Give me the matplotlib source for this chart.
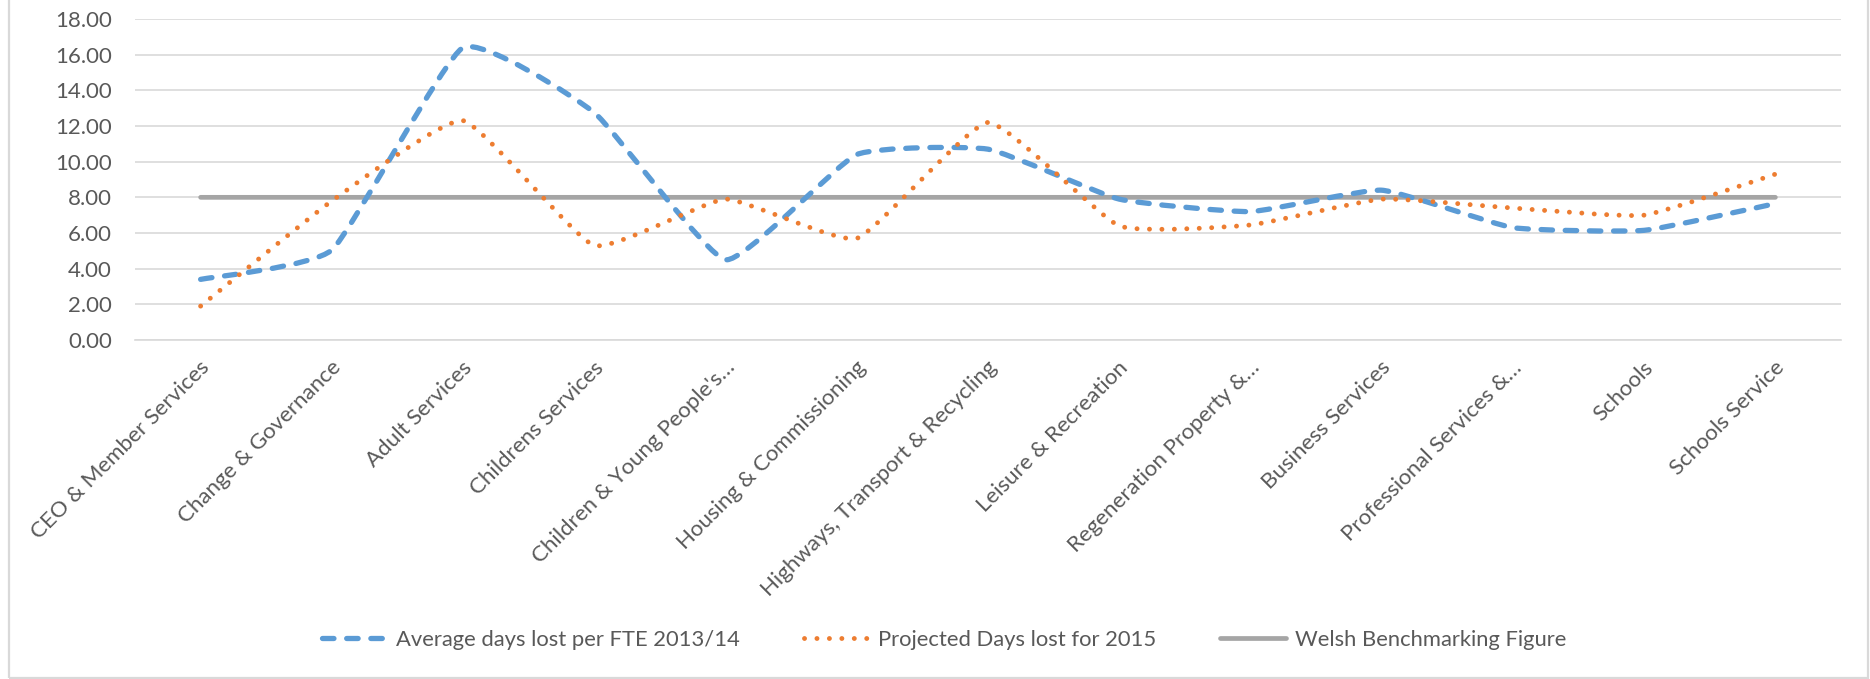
import numpy as np
import matplotlib
matplotlib.use("Agg")
import matplotlib.pyplot as plt
from matplotlib.path import Path
from matplotlib.patches import PathPatch, Rectangle
from matplotlib.lines import Line2D
from matplotlib.transforms import offset_copy

# =========================
# Data
# =========================
categories = [
    "CEO & Member Services",
    "Change & Governance",
    "Adult Services",
    "Childrens Services",
    "Children & Young People's\u2026",
    "Housing & Commissioning",
    "Highways, Transport & Recycling",
    "Leisure & Recreation",
    "Regeneration Property &\u2026",
    "Business Services",
    "Professional Services &\u2026",
    "Schools",
    "Schools Service",
]
avg_days_2013_14 = [3.40, 5.05, 16.40, 12.75, 4.50, 10.40, 10.70, 7.90, 7.20, 8.40, 6.30, 6.15, 7.65]
projected_2015 = [1.90, 7.80, 12.30, 5.30, 7.90, 5.70, 12.20, 6.40, 6.45, 7.90, 7.40, 7.00, 9.30]
welsh_benchmark = [8.00] * 13

series_names = [
    "Average days lost per FTE 2013/14",
    "Projected Days lost for 2015",
    "Welsh Benchmarking Figure",
]

# =========================
# Plot settings
# =========================
plt.rcParams.update({
    "font.family": ["Lato", "DejaVu Sans"],
    "font.size": 16,
})

text_color = "#595959"
grid_color = "#D9D9D9"
blue = "#5B9BD5"
orange = "#ED7D31"
grey = "#A5A5A5"


def smooth_path(xs, ys, k=14.0):
    # mildly smoothed line (Excel "smoothed line"), Bezier segments
    pts = np.column_stack([xs, ys]).astype(float)
    verts = [pts[0]]
    codes = [Path.MOVETO]
    n = len(pts)
    for i in range(n - 1):
        p0 = pts[i - 1] if i > 0 else pts[i]
        p1 = pts[i]
        p2 = pts[i + 1]
        p3 = pts[i + 2] if i + 2 < n else pts[i + 1]
        verts += [p1 + (p2 - p0) / k, p2 - (p3 - p1) / k, p2]
        codes += [Path.CURVE4] * 3
    return Path(verts, codes)


fig = plt.figure(figsize=(18.7, 6.79), dpi=100)
W, H = 1870, 679
ax = fig.add_axes([135 / W, 1 - 340 / H, (1841 - 135) / W, (340 - 19) / H])

x = np.arange(len(categories))

styles = [
    dict(color=blue, lw=3.8, ls=(0, (2.17, 2.41)), z=4),
    dict(color=orange, lw=3.5, ls=(0, (0.01, 2.55)), z=5),
    dict(color=grey, lw=3.4, ls="-", z=3),
]

for vals, st in zip([avg_days_2013_14, projected_2015, welsh_benchmark], styles):
    patch = PathPatch(smooth_path(x, vals), fill=False, edgecolor=st["color"],
                      linewidth=st["lw"], linestyle=st["ls"], zorder=st["z"])
    patch.set_capstyle("round")
    patch.set_joinstyle("round")
    ax.add_patch(patch)

ax.set_xlim(-0.5, len(categories) - 0.5)
ax.set_ylim(0, 18)
ax.set_yticks(np.arange(0, 18.01, 2))
ax.set_yticklabels([f"{v:.2f}" for v in np.arange(0, 18.01, 2)])
ax.grid(axis="y", color=grid_color, linewidth=1.2, zorder=0)
ax.set_axisbelow(True)

for s in ["top", "right", "left"]:
    ax.spines[s].set_visible(False)
ax.spines["bottom"].set_color(grid_color)
ax.spines["bottom"].set_linewidth(1.2)

ax.set_xticks(x)
ax.set_xticklabels(categories, rotation=45, ha="right", va="center",
                   rotation_mode="anchor")
ax.tick_params(axis="x", length=0, pad=14, colors=text_color, labelsize=16)
ax.tick_params(axis="y", length=0, pad=16.5, colors=text_color, labelsize=16)
for lab in ax.get_xticklabels():
    lab.set_transform(offset_copy(lab.get_transform(), fig=fig, x=6, y=-5, units="dots"))

handles = [Line2D([], [], color=st["color"], lw=st["lw"], ls=st["ls"],
                  solid_capstyle="round", dash_capstyle="round") for st in styles]
leg = fig.legend(handles, series_names, loc="center", bbox_to_anchor=(944 / W, 1 - 640 / H),
                 ncol=3, frameon=False, fontsize=15.8, handlelength=3.0,
                 handletextpad=0.4, columnspacing=2.9)
for t in leg.get_texts():
    t.set_color(text_color)

# chart area border
fig.add_artist(Rectangle((9 / W, 1 / H), (1868 - 9) / W, 1.2, transform=fig.transFigure,
                         fill=False, edgecolor=grid_color, linewidth=1.6))

fig.savefig("out.png", dpi=100)
